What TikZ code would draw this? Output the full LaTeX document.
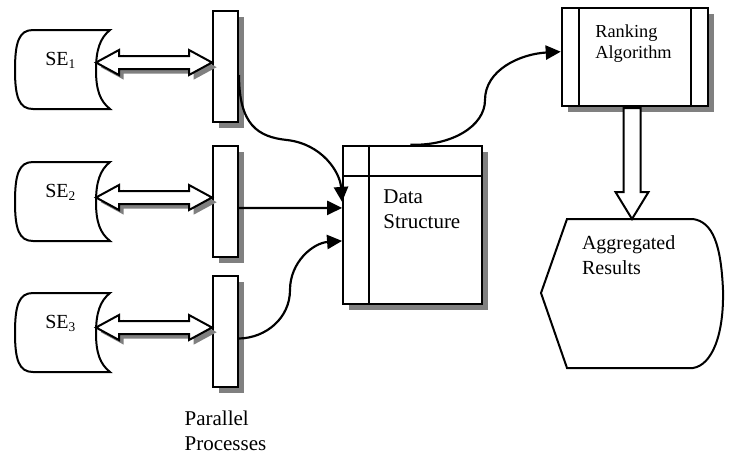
\documentclass[tikz,border=0pt]{standalone}
\usepackage{fontspec}
\setmainfont{Liberation Serif}
\usetikzlibrary{arrows.meta,calc,positioning,shadows}
\tikzset{
grayshadow/.style={drop shadow={shadow xshift=#1,shadow yshift=-#1,opacity=1,fill=black!50}},
grayshadow/.default=3.6pt,
procbar/.style={rectangle,draw=black,line width=1.2pt,fill=white,inner sep=0pt,
  minimum width=15pt,minimum height=66.6pt,grayshadow},
tablebox/.style={rectangle,draw=black,line width=1.2pt,fill=white,inner sep=0pt,grayshadow},
storeline/.style={draw=black,line width=1.2pt,fill=white},
lbltext/.style={inner sep=0pt,align=left,font=\fontsize{12}{15}\selectfont},
bigtext/.style={lbltext,font=\fontsize{12.6}{15}\selectfont},
flowarr/.style={line width=1.3pt,-{Triangle[length=9pt,width=8.5pt]}},
dblarr/.style={draw=black,line width=1.2pt,fill=white,grayshadow=2.8pt},
hollowarr/.style={draw=black,line width=1.2pt,fill=white}
}
\begin{document}
\begin{tikzpicture}[x=0.6pt,y=-0.6pt]
\useasboundingbox (0,0) rectangle (729,453);
\foreach \i/\ytop in {1/30,2/162,3/293}{
  \draw[storeline] (33,\ytop) -- (110,\ytop) .. controls (100,\ytop+8) and (96,\ytop+20) .. (96,\ytop+40)
    .. controls (96,\ytop+60) and (100,\ytop+71) .. (110,\ytop+79) -- (33,\ytop+79)
    .. controls (19,\ytop+79) and (15,\ytop+67) .. (15,\ytop+40) .. controls (15,\ytop+12) and (19,\ytop) .. (33,\ytop) -- cycle;
  \node[lbltext,anchor=base west] (se\i) at (45,\ytop+35) {SE\textsubscript{\i}};
}
\node[procbar] (p1) at (225.5,66.5) {};
\node[procbar] (p2) at (225.5,201.5) {};
\node[procbar] (p3) at (225.5,331.5) {};
\foreach \i in {1,2,3}
  \path[dblarr] ($(p\i.west)+(0,-4)$) -- ++(-23,-12.5) -- ++(0,6) -- ++(-70,0) -- ++(0,-6) -- ++(-23,12.5)
    -- ++(23,12.5) -- ++(0,-6) -- ++(70,0) -- ++(0,6) -- cycle;
\node[bigtext,below=13.5pt of p3] (pp) {Parallel\\Processes};
\node[tablebox,minimum width=83.2pt,minimum height=95pt] (ds) at (412.4,224.9) {};
\draw[line width=1.2pt] ($(ds.north west)+(27,0)$) -- ($(ds.south west)+(27,0)$)
  ($(ds.north west)+(0,31)$) -- ($(ds.north east)+(0,31)$);
\node[bigtext,anchor=north west] (dstxt) at (383,189) {Data\\Structure};
\node[tablebox,minimum width=87.6pt,minimum height=58.6pt] (rank) at (634.7,57.2) {};
\draw[line width=1.2pt] ($(rank.north west)+(18,0)$) -- ($(rank.south west)+(18,0)$)
  ($(rank.north east)+(-18,0)$) -- ($(rank.south east)+(-18,0)$);
\node[lbltext,anchor=north west,font=\fontsize{11}{12.8}\selectfont] (ranktxt) at (595,24.2) {Ranking\\Algorithm};
\draw[storeline] (567,219) -- (693,219) .. controls (713,222) and (721,245) .. (723,290)
  .. controls (724,335) and (712,365) .. (693,368) -- (567,368) -- (541,293) -- cycle;
\coordinate (aggtop) at (632,219);
\node[lbltext,anchor=north west] (agg) at (581.7,235.3) {Aggregated\\Results};
\draw[flowarr] ($(p1.east)+(0,8.5)$) .. controls (239,125) and (258,137) .. (287,140)
  .. controls (322,144) and (340,172) .. ($(ds.west)+(0,-23)$);
\draw[flowarr] ($(p2.east)+(0,6.5)$) -- ($(ds.west)+(0,-17)$);
\draw[flowarr] ($(p3.east)+(0,7)$) .. controls (266,338) and (290,318) .. (290,290)
  .. controls (290,262) and (313,243) .. ($(ds.west)+(0,16)$);
\draw[flowarr] ($(ds.north)+(-2,0)$) .. controls (452,146) and (485,126) .. (485,100)
  .. controls (485,70) and (520,54) .. ($(rank.west)+(0,-5.5)$);
\draw[hollowarr] (aggtop) -- ++(-16.5,-27) -- ++(8,0) -- ($(aggtop |- rank.south)+(-8.5,1)$)
  -- ++(17,0) -- ($(aggtop)+(8.5,-27)$) -- ++(8,0) -- cycle;
\end{tikzpicture}
\end{document}
